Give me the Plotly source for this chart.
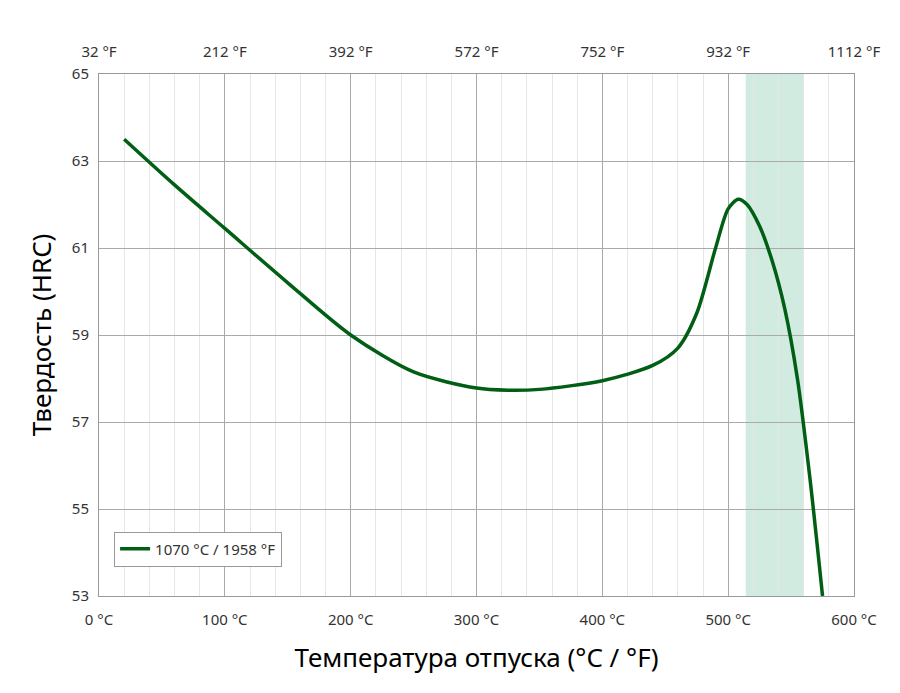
import plotly.graph_objects as go

# Tempering curve, hardness vs tempering temperature
temp_c = [20, 60, 100, 150, 200, 250, 300, 325, 350, 400, 440, 460, 475, 490, 500, 508, 515, 525, 535, 545, 555, 565, 575]
hrc = [63.5, 62.45, 61.45, 60.2, 59.0, 58.15, 57.78, 57.73, 57.75, 57.95, 58.3, 58.7, 59.5, 61.0, 61.9, 62.12, 62.0, 61.5, 60.7, 59.6, 58.0, 55.7, 53.0]

x_ticks_c = [0, 100, 200, 300, 400, 500, 600]
x_labels_c = ["0 °C", "100 °C", "200 °C", "300 °C", "400 °C", "500 °C", "600 °C"]
x_labels_f = ["32 °F", "212 °F", "392 °F", "572 °F", "752 °F", "932 °F", "1112 °F"]
y_ticks = [53, 55, 57, 59, 61, 63, 65]
band = [514, 560]

fig = go.Figure()
fig.add_vrect(x0=band[0], x1=band[1], fillcolor="#c9e8da", opacity=0.85, line_width=0, layer="below")
fig.add_trace(go.Scatter(x=temp_c, y=hrc, mode="lines", line=dict(color="#005f14", width=3.5, shape="spline", smoothing=0.8),
                         name="1070 °C / 1958 °F"))
fig.add_trace(go.Scatter(x=[None], y=[None], xaxis="x2", showlegend=False))

font = "Noto Sans"
fig.update_layout(
    width=900, height=693, plot_bgcolor="white", paper_bgcolor="white",
    margin=dict(l=91, r=54, t=66, b=105),
    font=dict(family=font, size=15, color="#333"),
    xaxis=dict(range=[0, 600], tickvals=x_ticks_c, ticktext=x_labels_c, showgrid=True, gridcolor="#aaaaaa",
               minor=dict(dtick=20, showgrid=True, gridcolor="#e6e6e6"), automargin=False, ticklabelstandoff=10,
               title=dict(text="Температура отпуска (°C / °F)", font=dict(size=26, color="black"), standoff=20),
               showline=True, linecolor="#999", zeroline=False, ticks=""),
    xaxis2=dict(range=[0, 600], overlaying="x", side="top", tickvals=x_ticks_c, ticktext=x_labels_f,
                automargin=False, ticklabelstandoff=10,
                showgrid=False, showline=True, linecolor="#999", ticks=""),
    yaxis=dict(range=[53, 65], tickvals=y_ticks, showgrid=True, gridcolor="#aaaaaa", automargin=False,
               ticklabelstandoff=6,
               title=dict(text="Твердость (HRC)", font=dict(size=26, color="black"), standoff=12),
               showline=True, linecolor="#999", mirror=True, zeroline=False, ticks=""),
    legend=dict(x=0.02, y=0.09, xanchor="left", yanchor="middle", bordercolor="#999", borderwidth=1,
                bgcolor="white", font=dict(size=15)),
)
fig.write_html("out.html")
